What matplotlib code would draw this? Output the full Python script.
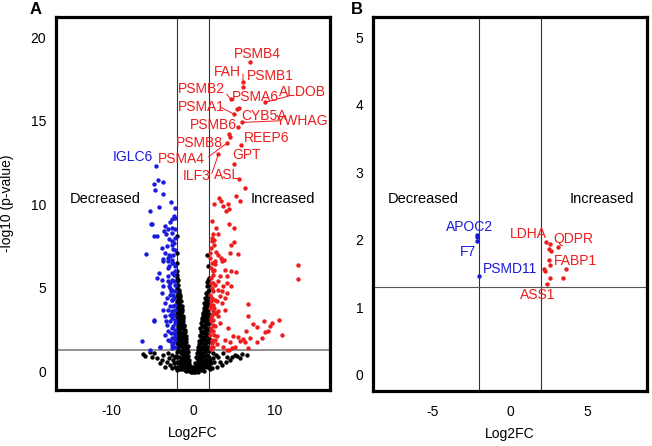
import matplotlib.pyplot as plt

plt.rcParams['font.family'] = ['Liberation Sans', 'DejaVu Sans']
plt.rcParams['axes.unicode_minus'] = False

# ---------- Panel A data (Log2FC, -log10 p) ----------
# non-significant proteins (black)
ns_x = [-1.9, -2.0, -1.8, -1.95, -1.7, -1.85, -1.6, -1.9, -1.75, -1.5, -1.95, -1.65, -1.4, -1.8, -1.55,
        -1.3, -1.9, -1.7, -1.45, -1.2, -1.95, -1.6, -1.35, -1.1, -1.85, -1.5, -1.25, -1.0, -1.95, -1.7,
        -1.4, -1.15, -0.9, -1.9, -1.6, -1.3, -1.05, -0.8, -1.95, -1.75, -1.5, -1.2, -0.95, -0.7, -1.85,
        -1.6, -1.35, -1.1, -0.85, -0.6, -1.9, -1.7, -1.4, -1.15, -0.9, -0.65, -0.45, -1.8, -1.5, -1.25,
        -1.0, -0.75, -0.5, -0.3, -1.6, -1.3, -1.0, -0.7, -0.4, -0.2,
        1.8, 1.9, 1.7, 1.95, 1.6, 1.85, 1.5, 1.75, 1.4, 1.95, 1.6, 1.3, 1.85, 1.5, 1.2,
        1.7, 1.4, 1.1, 1.95, 1.6, 1.3, 1.0, 1.8, 1.5, 1.2, 0.9, 1.95, 1.65, 1.35, 1.05,
        0.8, 1.8, 1.5, 1.2, 0.95, 0.7, 1.9, 1.6, 1.3, 1.05, 0.8, 0.6, 1.75, 1.45, 1.15,
        0.9, 0.65, 0.45, 1.9, 1.6, 1.3, 1.0, 0.75, 0.5, 0.3, 1.7, 1.4, 1.1, 0.8, 0.5,
        0.2, 0.0, -0.1, 0.1, 0.3, -0.3,
        -6.1, -5.85, -5.0, -4.4, -3.6, -4.0, -3.2, -2.8, -3.4, -2.4, -2.6, -2.0, -5.3, -4.7, -3.0,
        -2.5, -2.2, -2.9, -3.8, -2.3,
        2.5, 3.1, 4.1, 4.5, 4.7, 5.1, 6.55, 5.7, 3.3, 2.9, 2.2, 2.4, 2.8, 3.6, 4.0,
        2.3, 2.6, 3.5, 5.4, 6.0,
        -1.9, -1.9, 1.75, -1.95, -1.9, 1.8,
        -1.95, -1.85, -2.0, -1.8, -1.95, -1.7, -1.55, -1.85, -1.6, -1.9, -1.7, -1.45,
        -1.95, -1.75, -1.6, -1.35, -1.9, -1.65, -1.45, -1.8, -1.55, -1.25, -1.9, -1.7, -1.4, -1.2,
        -1.75, -1.5, -1.95, -1.65, -1.3, -1.05, -1.8, -1.55, -1.15, -0.95, -1.85, -1.55, -1.25, -1.0,
        -1.75, -1.45, -0.85, -1.85, -1.5, -1.2, -0.95, -0.65, -1.8, -1.4, -1.1, -0.8, -0.55, -1.95,
        -1.5, -1.25, -0.95, -0.7, -0.45, -2.1, -1.95, -1.6, -1.35, -1.1, -0.85, -0.6, -0.35, -0.15,
        -1.75, -1.45, -1.15, -0.9, -0.6, -0.25, -0.5, -0.8, -1.9, -2.2,
        1.9, 1.75, 1.95, 1.85, 1.7, 1.95, 1.55, 1.85, 1.65, 1.45, 1.9, 1.7, 1.35, 1.6, 1.9, 1.25,
        1.5, 1.8, 1.15, 1.45, 1.7, 1.9, 1.05, 1.35, 1.6, 1.85, 0.95, 1.25, 1.5, 1.75, 0.9, 1.1,
        1.4, 1.7, 1.95, 0.75, 1.0, 1.2, 1.5, 1.8, 0.65, 0.9, 1.2, 1.5, 1.95, 0.5, 0.8, 1.05,
        1.35, 1.7, 0.35, 0.6, 0.85, 1.15, 1.45, 1.8, 2.05, 0.25, 0.55, 0.9, 1.2, 1.55, 1.9, 2.1,
        0.1, 0.4, 0.7, 1.0, 1.3, 0.55, -0.1, 0.15]
ns_y = [5.6, 5.4, 5.2, 5.0, 4.9, 4.7, 4.6, 4.5, 4.3, 4.2, 4.1, 4.0, 3.9, 3.8, 3.7,
        3.6, 3.5, 3.4, 3.3, 3.2, 3.1, 3.0, 2.9, 2.8, 2.75, 2.7, 2.6, 2.5, 2.45, 2.4,
        2.3, 2.2, 2.1, 2.05, 2.0, 1.9, 1.85, 1.75, 1.7, 1.65, 1.6, 1.5, 1.45, 1.35, 1.3,
        1.25, 1.2, 1.1, 1.0, 0.95, 0.9, 0.85, 0.8, 0.7, 0.65, 0.6, 0.5, 0.5, 0.45, 0.4,
        0.35, 0.3, 0.25, 0.2, 0.15, 0.15, 0.1, 0.1, 0.05, 0.02,
        5.5, 5.3, 5.1, 4.9, 4.7, 4.5, 4.4, 4.2, 4.1, 4.0, 3.9, 3.8, 3.7, 3.6, 3.5,
        3.4, 3.3, 3.2, 3.15, 3.1, 3.0, 2.9, 2.85, 2.8, 2.7, 2.6, 2.55, 2.5, 2.4, 2.3,
        2.2, 2.15, 2.1, 2.0, 1.9, 1.8, 1.75, 1.7, 1.6, 1.5, 1.4, 1.3, 1.3, 1.2, 1.1,
        1.0, 0.9, 0.8, 0.85, 0.75, 0.65, 0.55, 0.45, 0.35, 0.25, 0.3, 0.25, 0.2, 0.15, 0.1,
        0.05, 0.02, 0.1, 0.15, 0.0, 0.0,
        1.05, 0.95, 0.9, 0.8, 1.0, 0.5, 0.6, 0.4, 0.3, 0.7, 0.2, 0.1, 1.15, 1.1, 1.1,
        1.0, 0.9, 0.8, 0.7, 0.5,
        0.8, 0.9, 0.88, 0.7, 0.9, 1.0, 1.0, 0.8, 0.6, 0.3, 0.5, 1.1, 1.0, 1.1, 0.6,
        0.2, 0.6, 0.4, 0.95, 1.05,
        8.1, 7.1, 6.95, 6.5, 6.0, 6.3,
        5.8, 5.5, 5.1, 4.85, 4.8, 4.75, 4.45, 4.35, 4.25, 4.2, 4.05, 3.95,
        3.95, 3.9, 3.8, 3.75, 3.65, 3.55, 3.5, 3.45, 3.35, 3.35, 3.25, 3.2, 3.1, 3.05,
        3.0, 2.95, 2.9, 2.85, 2.75, 2.7, 2.6, 2.55, 2.45, 2.35, 2.3, 2.25, 2.15, 2.05,
        2.1, 2.0, 1.95, 1.9, 1.85, 1.75, 1.65, 1.55, 1.5, 1.45, 1.35, 1.25, 1.15, 1.2,
        1.1, 1.0, 0.9, 0.8, 0.7, 0.95, 0.6, 0.65, 0.6, 0.5, 0.45, 0.4, 0.35, 0.3,
        0.3, 0.3, 0.25, 0.2, 0.2, 0.12, 0.05, 0.05, 0.2, 0.3,
        5.6, 5.35, 5.15, 4.8, 4.6, 4.55, 4.3, 4.25, 4.05, 3.95, 3.85, 3.75, 3.65, 3.5, 3.45, 3.4,
        3.25, 3.2, 3.1, 3.0, 2.95, 2.9, 2.75, 2.65, 2.6, 2.55, 2.45, 2.35, 2.3, 2.25, 2.1, 2.05,
        1.95, 1.9, 1.95, 1.65, 1.7, 1.8, 1.55, 1.5, 1.5, 1.3, 1.35, 1.35, 1.25, 1.1, 1.15, 1.0,
        0.95, 1.0, 0.9, 0.7, 0.8, 0.75, 0.6, 0.55, 0.7, 0.5, 0.55, 0.45, 0.4, 0.4, 0.35, 0.15,
        0.3, 0.2, 0.25, 0.1, 0.05, 0.0, -0.02, -0.05]

# significantly decreased (blue)
down_x = [-4.55, -4.3, -4.75, -3.6, -4.6, -3.6, -5.3, -4.2, -2.7, -5.1, -3.4, -3.1, -2.6, -2.8,
          -4.8, -4.4, -3.3, -2.9, -2.5, -3.8, -3.2, -2.6, -5.7, -2.4, -3.4, -2.9, -3.6, -2.6, -3.1,
          -3.6, -2.6, -3.1, -4.2, -4.4, -3.8, -3.0, -2.8, -3.6, -2.6, -3.8, -3.2, -2.6, -3.4,
          -3.0, -3.6, -2.6, -3.4, -2.8, -3.2, -2.6, -3.0, -3.4, -4.75, -6.25, -5.25, -4.0, -2.8,
          -2.5, -5.0, -4.7, -4.0,
          -2.2, -2.3, -2.15, -2.4, -2.2, -2.3, -2.15, -2.35, -2.2, -2.25, -2.5, -2.7, -2.45,
          -2.6, -2.5, -2.9, -2.8, -2.4, -2.3, -2.2, -2.15,
          -2.15, -2.3, -2.5, -2.25, -2.6, -2.15, -2.75, -2.45, -2.2, -2.9, -2.6, -2.35, -2.75,
          -2.15, -2.55, -2.3, -2.85, -2.15, -2.5, -2.75, -2.25, -2.45, -2.2, -2.7, -2.4, -2.15,
          -2.6, -3.1, -3.3, -3.1, -3.0, -3.5]
down_y = [12.3, 11.45, 11.2, 11.35, 10.85, 10.6, 9.6, 9.85, 10.15, 8.8, 8.7, 8.55, 9.1, 8.95,
          8.1, 8.1, 8.2, 7.95, 8.3, 7.4, 7.5, 7.6, 7.05, 7.35, 7.1, 7.0, 6.75, 6.7, 6.6,
          6.6, 6.5, 6.2, 5.9, 5.6, 5.5, 5.7, 5.3, 5.1, 4.9, 4.7, 4.4, 4.3, 4.1,
          3.7, 3.7, 3.5, 3.3, 3.0, 2.8, 2.6, 2.4, 2.2, 3.05, 1.8, 1.3, 1.47, 1.8,
          1.4, 8.8, 3.1, 1.5,
          6.3, 5.8, 5.2, 4.6, 4.0, 3.4, 2.9, 2.3, 1.9, 1.5, 5.5, 4.8, 3.9,
          3.2, 2.0, 5.1, 3.9, 7.0, 7.7, 8.5, 9.2,
          9.8, 9.3, 8.6, 8.0, 7.8, 7.3, 6.9, 6.5, 6.0, 6.3, 5.9, 5.4, 5.0,
          4.8, 4.3, 4.4, 4.6, 3.7, 3.6, 3.4, 3.1, 2.7, 2.5, 2.3, 1.7, 2.1,
          1.6, 1.9, 3.0, 5.4, 6.8, 8.4]

# significantly increased (red)
up_x = [7.0, 6.1, 6.1, 4.6, 5.4, 5.6, 8.8, 5.0, 6.0, 5.5, 5.8, 4.4, 4.5, 4.1, 3.1, 5.0, 5.6, 6.3,
        3.2, 3.4, 2.6, 5.2, 5.7, 3.6, 4.3, 4.0, 4.4, 2.8, 4.4, 5.0, 2.5, 3.0, 2.3, 2.6, 2.35, 5.0,
        4.6, 2.8, 3.1, 4.5, 5.45, 3.4, 3.8, 2.7, 12.85, 12.8, 2.7, 3.5, 2.56, 3.9, 4.6, 5.2,
        3.3, 4.1, 2.5, 3.1, 4.2, 3.7, 4.6, 3.0, 3.5, 4.1, 3.3, 3.9, 2.9, 3.5, 2.5, 6.7, 3.9,
        2.7, 3.1, 2.5, 6.7, 3.3, 2.7, 4.3, 7.35, 8.65, 9.6, 10.5, 9.4, 9.2, 8.8, 7.8, 6.5,
        8.4, 10.8, 4.9, 5.5, 6.1, 6.9, 5.7, 3.9, 4.5, 6.3, 2.5, 2.9, 3.7, 4.1, 4.7, 5.1,
        6.7, 7.8, 4.4,
        2.1, 2.2, 2.15, 2.3, 2.1, 2.25, 2.1, 2.3, 2.15, 2.2, 2.1, 2.3, 2.15, 2.4, 2.5, 2.4,
        2.45, 2.2, 2.6, 2.35,
        2.1, 2.3, 2.5, 2.2, 2.65, 2.35, 2.7, 2.2, 2.55, 2.25, 2.8, 2.4, 2.15, 2.6, 2.3, 2.7,
        2.5, 2.2, 3.0, 2.9]
up_y = [18.5, 17.3, 17.0, 16.3, 15.7, 15.75, 16.1, 15.4, 14.9, 14.6, 13.55, 14.2, 14.05, 13.65,
        13.0, 12.4, 11.5, 11.0,
        10.4, 10.2, 10.05, 10.5, 10.2, 9.9, 10.0, 9.6, 9.7, 8.6, 8.8, 8.6, 8.2, 8.25, 8.0, 7.9,
        7.8, 7.75, 7.55, 7.15, 7.0, 7.1, 7.05, 6.8, 6.7, 6.6, 6.4, 5.55, 6.45, 6.6, 6.1, 6.1,
        6.0, 5.95, 5.7, 5.7, 5.3, 5.4, 5.3, 5.1, 5.1, 4.9, 4.8, 4.7, 4.5, 4.4, 4.2, 4.1, 4.0,
        4.06, 3.7, 3.5, 3.3, 3.1, 3.3, 2.9, 2.7, 2.6, 2.87, 3.0, 2.9, 3.1, 2.7, 2.4, 2.35,
        2.65, 2.4, 2.0, 2.2, 2.1, 2.05, 1.95, 2.0, 1.8, 1.87, 1.75, 1.75, 1.8, 1.67, 1.47,
        1.31, 1.41, 1.47, 1.41, 1.75, 1.3,
        6.8, 6.2, 5.6, 5.0, 4.6, 4.2, 3.8, 3.4, 3.0, 2.6, 2.2, 1.9, 1.5, 5.8, 4.8, 3.6,
        2.4, 7.4, 7.6, 9.0,
        7.1, 6.5, 6.0, 5.3, 5.2, 4.4, 4.3, 4.0, 3.8, 3.2, 3.5, 2.8, 2.4, 2.2, 1.7, 1.9,
        1.5, 1.35, 3.6, 2.1]

# gene labels in panel A
a_red_labels = ['PSMB4', 'FAH', 'PSMB1', 'PSMB2', 'PSMA6', 'ALDOB', 'PSMA1', 'CYB5A', 'PSMB6',
                'YWHAG', 'REEP6', 'PSMB8', 'PSMA4', 'ILF3', 'GPT', 'ASL']
a_red_tx = [7.85, 4.2, 9.4, 1.06, 7.6, 13.3, 0.98, 8.6, 2.5, 13.3, 9.0, 0.77, -1.4, 0.45, 6.55, 4.2]
a_red_ty = [19.0, 17.9, 17.7, 16.9, 16.4, 16.7, 15.8, 15.3, 14.75, 15.0, 14.0, 13.7, 12.7, 11.7, 12.95, 11.75]
a_lines_from = [(6.1, 17.8), (4.1, 16.6), (3.4, 15.8), (10.6, 15.0), (1.9, 12.85), (2.3, 11.85),
                (11.8, 16.5)]
a_lines_to = [(6.1, 17.3), (4.6, 16.3), (5.0, 15.4), (5.9, 14.9), (4.1, 13.65), (3.1, 13.0),
              (8.8, 16.1)]

# ---------- Panel B data ----------
b_down_x = [-2.1, -2.1, -2.1, -2.0]
b_down_y = [2.07, 2.04, 1.98, 1.46]
b_up_x = [2.31, 2.56, 3.06, 2.5, 2.67, 2.54, 2.18, 2.24, 2.56, 3.63, 2.56, 3.38, 2.37]
b_up_y = [1.96, 1.93, 1.89, 1.86, 1.84, 1.70, 1.57, 1.53, 1.62, 1.57, 1.43, 1.43, 1.35]
b_blue_labels = ['APOC2', 'F7', 'PSMD11']
b_blue_tx = [-2.6, -2.7, -1.75]
b_blue_ty = [2.19, 1.82, 1.57]
b_red_labels = ['LDHA', 'QDPR', 'FABP1', 'ASS1']
b_red_tx = [1.2, 4.05, 4.2, 1.8]
b_red_ty = [2.09, 2.01, 1.68, 1.18]

RED = '#ee1c1c'
BLUE = '#1a1adc'
FS = 10
S = 10

fig = plt.figure(figsize=(6.52, 4.46), dpi=100)
axA = fig.add_axes([0.0859, 0.1256, 0.4202, 0.836])
axB = fig.add_axes([0.572, 0.1234, 0.4202, 0.8386])


def style(ax):
    for sp in ax.spines.values():
        sp.set_linewidth(2.3)
        sp.set_color('black')
    ax.tick_params(length=0, labelsize=FS, pad=7)
    ax.tick_params(axis='x', pad=10)
    ax.set_xlabel('Log2FC', fontsize=FS, labelpad=6)


# Panel A
axA.axvline(-2, color='#333333', lw=0.8, zorder=1)
axA.axvline(2, color='#333333', lw=0.8, zorder=1)
axA.axhline(1.3, color='#888888', lw=1.3, zorder=1)
axA.scatter(ns_x, ns_y, s=S, color='black', lw=0, zorder=2)
axA.scatter(down_x, down_y, s=S, color=BLUE, lw=0, zorder=3)
axA.scatter(up_x, up_y, s=S, color=RED, lw=0, zorder=3)
for t, x, y in zip(a_red_labels, a_red_tx, a_red_ty):
    axA.text(x, y, t, color=RED, fontsize=FS, ha='center', va='center', zorder=4)
for p0, p1 in zip(a_lines_from, a_lines_to):
    axA.annotate('', xy=p1, xytext=p0,
                 arrowprops=dict(arrowstyle='-', color=RED, lw=0.7, shrinkA=0, shrinkB=0))
axA.text(-7.35, 12.85, 'IGLC6', color=BLUE, fontsize=FS, ha='center', va='center')
axA.text(-10.7, 10.3, 'Decreased', fontsize=10.5, ha='center', va='center')
axA.text(11.0, 10.3, 'Increased', fontsize=10.5, ha='center', va='center')
axA.set_xlim(-16.7, 16.7)
axA.set_ylim(-1.1, 21.2)
axA.set_xticks([-10, 0, 10])
axA.set_yticks([0, 5, 10, 15, 20])
style(axA)
axA.set_ylabel('-log10 (p-value)', fontsize=FS, labelpad=12)
axA.text(-0.075, 1.0, 'A', transform=axA.transAxes, fontsize=12, fontweight='bold',
         ha='center', va='bottom')

# Panel B
axB.axvline(-2, color='#333333', lw=0.8, zorder=1)
axB.axvline(2, color='#333333', lw=0.8, zorder=1)
axB.axhline(1.3, color='#555555', lw=0.8, zorder=1)
axB.scatter(b_down_x, b_down_y, s=S, color=BLUE, lw=0, zorder=3)
axB.scatter(b_up_x, b_up_y, s=S, color=RED, lw=0, zorder=3)
for t, x, y in zip(b_blue_labels, b_blue_tx, b_blue_ty):
    axB.text(x, y, t, color=BLUE, fontsize=FS, ha='left' if t == 'PSMD11' else 'center',
             va='center')
for t, x, y in zip(b_red_labels, b_red_tx, b_red_ty):
    axB.text(x, y, t, color=RED, fontsize=FS, ha='center', va='center')
axB.text(-5.6, 2.6, 'Decreased', fontsize=10.5, ha='center', va='center')
axB.text(5.9, 2.6, 'Increased', fontsize=10.5, ha='center', va='center')
axB.set_xlim(-8.8, 8.8)
axB.set_ylim(-0.24, 5.3)
axB.set_xticks([-5, 0, 5])
axB.set_yticks([0, 1, 2, 3, 4, 5])
style(axB)
axB.text(-0.06, 1.0, 'B', transform=axB.transAxes, fontsize=12, fontweight='bold',
         ha='center', va='bottom')

fig.savefig('out.png', dpi=100)
